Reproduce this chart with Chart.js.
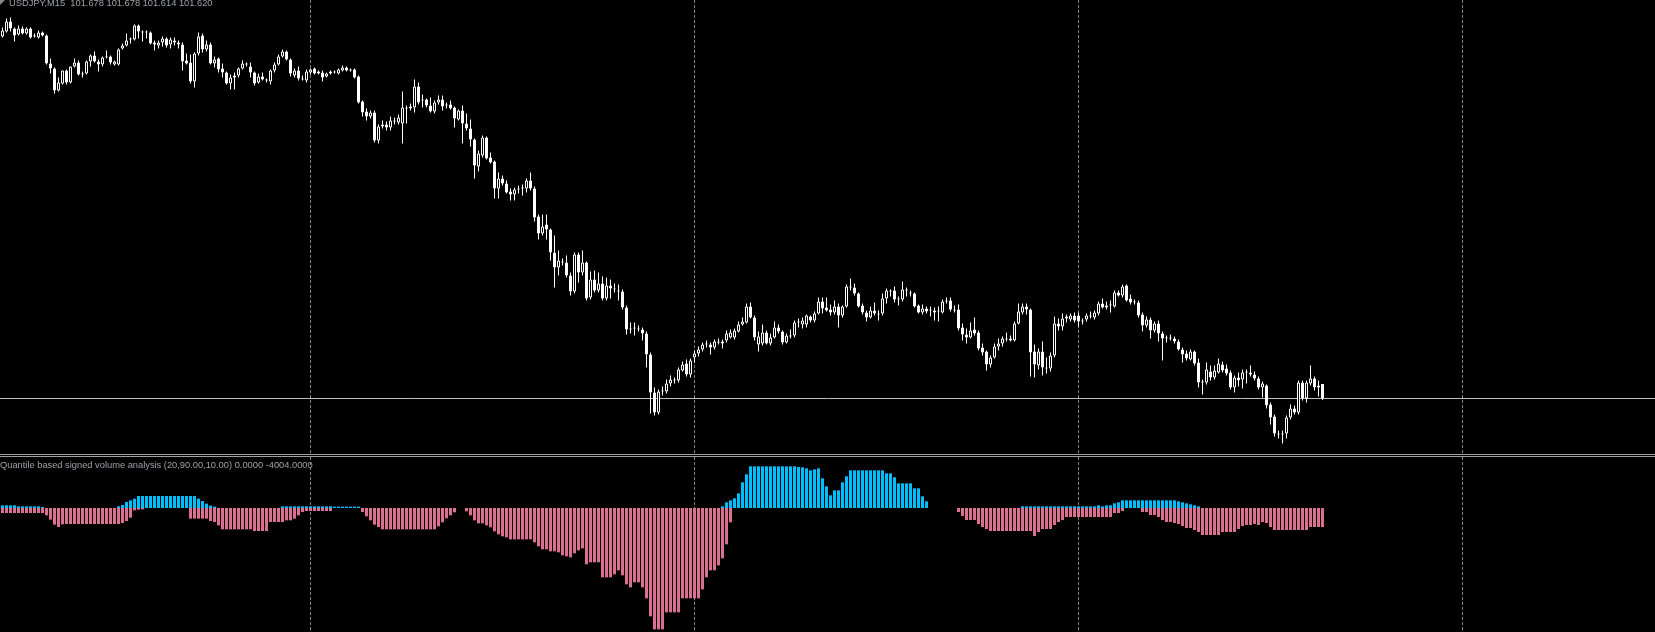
<!DOCTYPE html>
<html>
<head>
<meta charset="utf-8">
<script src="https://cdn.jsdelivr.net/npm/chart.js@4.4.0/dist/chart.umd.min.js"></script>
<style>
  body { margin: 0; background: #000; width: 1655px; height: 632px; overflow: hidden; position: relative;
         font-family: "Liberation Sans", Arial, sans-serif; }
  canvas { position: absolute; left: 0; }
  #price { top: 0; }
  #volume { top: 457px; }
  .sep { position: absolute; left: 0; width: 1655px; height: 1px; background: #a0a0a0; }
  .lbl { position: absolute; color: #9aa2a8; font-size: 9.3px; line-height: 9px; white-space: pre; }
  #tri { position: absolute; left: 0; top: 0; width: 0; height: 0;
         border-top: 5px solid #8a8a8a; border-right: 5px solid transparent; }
</style>
</head>
<body>
<canvas id="price" width="1655" height="454"></canvas>
<div class="sep" style="top:454px"></div>
<div class="sep" style="top:456px"></div>
<canvas id="volume" width="1655" height="175"></canvas>
<div id="tri"></div>
<div class="lbl" id="symLabel" style="left:9px;top:-1px"></div>
<div class="lbl" id="volLabel" style="left:0;top:461px"></div>
<script>
const symbol = 'USDJPY';
const period = 'M15';

// M15 candles, oldest first
const opens = [
  103.068,103.088,103.128,103.100,103.076,103.100,103.080,103.100,103.072,103.064,
  103.084,103.072,102.960,102.940,102.852,102.880,102.932,102.884,102.948,102.964,
  102.920,102.920,102.968,102.992,102.968,102.956,102.988,102.988,102.956,102.956,
  103.020,103.032,103.056,103.056,103.112,103.088,103.088,103.084,103.044,103.032,
  103.044,103.060,103.036,103.052,103.044,103.036,102.972,102.964,102.888,103.000,
  103.072,103.016,103.036,102.960,102.980,102.940,102.924,102.880,102.904,102.912,
  102.940,102.956,102.948,102.924,102.884,102.908,102.892,102.888,102.932,102.956,
  102.988,103.008,102.976,102.912,102.932,102.900,102.892,102.924,102.940,102.928,
  102.924,102.908,102.920,102.924,102.920,102.932,102.944,102.936,102.936,102.908,
  102.808,102.768,102.748,102.764,102.652,102.708,102.716,102.704,102.732,102.724,
  102.720,102.780,102.788,102.784,102.868,102.812,102.816,102.792,102.768,102.804,
  102.816,102.792,102.796,102.784,102.736,102.772,102.720,102.700,102.656,102.548,
  102.592,102.664,102.584,102.568,102.460,102.500,102.480,102.448,102.436,102.456,
  102.460,102.460,102.492,102.460,102.348,102.280,102.316,102.296,102.204,102.144,
  102.168,102.164,102.112,102.048,102.196,102.124,102.164,102.024,102.096,102.052,
  102.080,102.020,102.072,102.060,102.052,102.048,101.984,101.900,101.904,101.900,
  101.896,101.880,101.796,101.644,101.564,101.648,101.648,101.680,101.692,101.692,
  101.732,101.760,101.716,101.784,101.800,101.816,101.840,101.836,101.824,101.848,
  101.848,101.852,101.864,101.864,101.888,101.916,101.924,101.988,101.944,101.836,
  101.840,101.884,101.840,101.864,101.904,101.888,101.844,101.872,101.872,101.928,
  101.916,101.916,101.948,101.932,101.960,102.008,101.984,101.976,101.964,101.988,
  101.952,101.988,102.068,102.064,102.040,101.992,101.964,101.944,101.972,101.960,
  101.960,102.020,102.052,102.052,102.016,102.016,102.056,102.044,102.040,101.992,
  101.964,101.980,101.972,101.972,101.968,101.964,102.008,102.012,101.976,101.976,
  101.904,101.876,101.864,101.896,101.884,101.824,101.808,101.756,101.784,101.828,
  101.840,101.860,101.860,101.852,101.920,101.964,101.988,101.976,101.808,101.752,
  101.808,101.744,101.740,101.792,101.920,101.908,101.940,101.936,101.952,101.952,
  101.932,101.936,101.952,101.944,101.960,102.000,101.992,101.992,101.988,102.044,
  102.032,102.072,102.020,102.004,102.004,101.956,101.912,101.936,101.892,101.920,
  101.880,101.860,101.864,101.860,101.848,101.816,101.800,101.776,101.808,101.764,
  101.684,101.684,101.728,101.704,101.724,101.756,101.740,101.724,101.664,101.704,
  101.696,101.724,101.724,101.716,101.700,101.664,101.672,101.596,101.548,101.480,
  101.476,101.480,101.544,101.580,101.564,101.684,101.620,101.680,101.700,101.672,
  101.678
];
const highs = [
  103.104,103.140,103.144,103.104,103.112,103.108,103.104,103.104,103.080,103.092,
  103.088,103.076,102.980,102.944,102.904,102.932,102.936,102.948,102.980,102.972,
  102.928,102.972,102.996,103.008,102.976,102.988,103.012,102.992,102.972,103.020,
  103.040,103.080,103.064,103.116,103.116,103.092,103.092,103.088,103.052,103.052,
  103.068,103.064,103.064,103.064,103.052,103.044,103.000,102.996,103.004,103.084,
  103.080,103.052,103.044,102.988,102.984,102.960,102.928,102.916,102.924,102.944,
  102.972,102.964,102.964,102.928,102.920,102.924,102.900,102.936,102.964,102.996,
  103.016,103.012,102.980,102.940,102.948,102.912,102.936,102.940,102.944,102.932,
  102.932,102.924,102.932,102.932,102.940,102.952,102.948,102.940,102.940,102.912,
  102.812,102.780,102.772,102.772,102.716,102.732,102.728,102.748,102.744,102.756,
  102.848,102.792,102.800,102.896,102.884,102.836,102.820,102.824,102.812,102.832,
  102.832,102.804,102.812,102.788,102.776,102.792,102.760,102.736,102.660,102.612,
  102.672,102.668,102.604,102.572,102.524,102.512,102.492,102.460,102.464,102.472,
  102.476,102.500,102.524,102.468,102.356,102.356,102.356,102.300,102.272,102.212,
  102.180,102.192,102.124,102.204,102.204,102.212,102.168,102.128,102.132,102.124,
  102.108,102.104,102.096,102.080,102.076,102.056,101.992,101.924,101.924,101.912,
  101.904,101.888,101.804,101.664,101.656,101.668,101.696,101.712,101.704,101.744,
  101.768,101.776,101.780,101.812,101.828,101.844,101.852,101.844,101.856,101.860,
  101.856,101.892,101.896,101.900,101.928,101.944,102.000,102.004,101.952,101.888,
  101.916,101.892,101.880,101.928,101.916,101.892,101.880,101.896,101.932,101.940,
  101.944,101.956,101.952,101.968,102.024,102.024,102.024,101.996,102.012,102.000,
  101.992,102.076,102.100,102.080,102.044,102.000,101.972,101.988,102.004,101.972,
  102.040,102.060,102.056,102.068,102.028,102.088,102.064,102.052,102.044,101.996,
  101.996,101.988,101.988,101.984,101.988,102.016,102.024,102.024,101.992,101.996,
  101.920,101.900,101.924,101.944,101.892,101.840,101.812,101.792,101.840,101.860,
  101.868,101.884,101.872,101.928,102.000,102.000,102.000,101.980,101.836,101.820,
  101.848,101.784,101.804,101.948,101.940,101.960,101.956,101.960,101.964,101.964,
  101.940,101.960,101.968,101.972,102.008,102.020,102.008,102.012,102.052,102.052,
  102.076,102.076,102.036,102.016,102.012,101.964,101.948,101.944,101.928,101.932,
  101.888,101.872,101.876,101.868,101.856,101.824,101.812,101.816,101.812,101.780,
  101.696,101.764,101.752,101.752,101.780,101.768,101.756,101.732,101.712,101.724,
  101.736,101.736,101.752,101.728,101.708,101.688,101.676,101.604,101.556,101.492,
  101.492,101.552,101.596,101.592,101.692,101.692,101.692,101.752,101.708,101.692,
  101.678
];
const lows = [
  103.064,103.084,103.088,103.048,103.072,103.076,103.076,103.060,103.064,103.060,
  103.068,102.956,102.920,102.840,102.848,102.876,102.876,102.880,102.944,102.912,
  102.904,102.916,102.948,102.964,102.928,102.948,102.980,102.956,102.952,102.952,
  103.016,103.028,103.040,103.052,103.060,103.048,103.060,103.036,103.012,103.020,
  103.028,103.024,103.020,103.032,103.020,102.932,102.956,102.880,102.864,102.992,
  103.004,103.008,102.956,102.944,102.924,102.904,102.876,102.856,102.856,102.904,
  102.936,102.948,102.904,102.872,102.880,102.892,102.884,102.876,102.924,102.952,
  102.984,102.972,102.908,102.904,102.892,102.892,102.884,102.916,102.916,102.916,
  102.888,102.904,102.916,102.920,102.916,102.928,102.928,102.928,102.900,102.800,
  102.748,102.732,102.740,102.644,102.640,102.700,102.692,102.692,102.716,102.716,
  102.640,102.720,102.772,102.764,102.796,102.784,102.784,102.764,102.760,102.796,
  102.772,102.780,102.776,102.704,102.732,102.640,102.692,102.628,102.500,102.528,
  102.584,102.576,102.560,102.420,102.420,102.472,102.440,102.412,102.412,102.440,
  102.432,102.444,102.452,102.328,102.256,102.272,102.256,102.172,102.064,102.112,
  102.152,102.104,102.032,102.040,102.084,102.112,102.012,102.016,102.044,102.044,
  102.012,102.012,102.020,102.044,102.012,101.976,101.876,101.880,101.872,101.888,
  101.852,101.744,101.560,101.552,101.556,101.632,101.640,101.668,101.680,101.684,
  101.728,101.708,101.704,101.764,101.788,101.808,101.824,101.796,101.816,101.836,
  101.820,101.844,101.860,101.856,101.884,101.912,101.920,101.940,101.852,101.808,
  101.832,101.836,101.832,101.860,101.880,101.836,101.840,101.860,101.864,101.904,
  101.900,101.904,101.924,101.924,101.956,101.960,101.968,101.952,101.956,101.904,
  101.944,101.984,102.052,102.032,101.984,101.956,101.928,101.940,101.952,101.932,
  101.952,102.000,102.028,102.004,101.992,102.008,102.028,102.028,101.984,101.960,
  101.956,101.960,101.948,101.932,101.928,101.960,102.000,101.968,101.964,101.892,
  101.852,101.840,101.860,101.872,101.812,101.792,101.732,101.744,101.780,101.812,
  101.828,101.848,101.848,101.848,101.916,101.956,101.956,101.708,101.704,101.736,
  101.712,101.720,101.728,101.784,101.892,101.892,101.924,101.928,101.924,101.908,
  101.916,101.928,101.940,101.936,101.952,101.980,101.976,101.964,101.984,102.028,
  102.024,102.008,101.996,101.996,101.944,101.888,101.904,101.860,101.884,101.848,
  101.772,101.844,101.852,101.840,101.812,101.764,101.772,101.772,101.752,101.664,
  101.636,101.676,101.692,101.696,101.720,101.724,101.712,101.656,101.644,101.668,
  101.660,101.680,101.708,101.692,101.656,101.624,101.580,101.516,101.468,101.460,
  101.440,101.460,101.536,101.556,101.556,101.612,101.604,101.672,101.652,101.628,
  101.614
];
const closes = [
  103.092,103.128,103.100,103.072,103.100,103.080,103.100,103.064,103.068,103.084,
  103.072,102.960,102.940,102.852,102.884,102.932,102.884,102.948,102.964,102.916,
  102.916,102.968,102.992,102.968,102.956,102.984,102.984,102.964,102.968,103.016,
  103.032,103.052,103.060,103.112,103.088,103.084,103.084,103.040,103.036,103.044,
  103.060,103.032,103.056,103.044,103.036,102.968,102.960,102.888,103.000,103.068,
  103.016,103.036,102.960,102.976,102.936,102.924,102.880,102.904,102.912,102.940,
  102.960,102.956,102.924,102.880,102.908,102.896,102.892,102.932,102.956,102.988,
  103.008,102.976,102.920,102.932,102.900,102.896,102.928,102.936,102.920,102.920,
  102.904,102.920,102.928,102.924,102.936,102.944,102.932,102.932,102.904,102.804,
  102.764,102.748,102.764,102.652,102.708,102.716,102.704,102.732,102.728,102.744,
  102.784,102.780,102.780,102.868,102.804,102.812,102.792,102.768,102.804,102.816,
  102.788,102.792,102.780,102.740,102.772,102.720,102.700,102.656,102.552,102.600,
  102.664,102.580,102.564,102.460,102.500,102.480,102.444,102.436,102.456,102.456,
  102.460,102.492,102.460,102.344,102.280,102.308,102.296,102.204,102.144,102.172,
  102.164,102.112,102.048,102.196,102.124,102.164,102.020,102.096,102.052,102.080,
  102.020,102.072,102.060,102.056,102.048,101.984,101.896,101.896,101.900,101.896,
  101.880,101.796,101.644,101.564,101.648,101.648,101.680,101.696,101.692,101.736,
  101.756,101.716,101.772,101.800,101.816,101.836,101.836,101.824,101.848,101.844,
  101.840,101.880,101.884,101.892,101.916,101.928,101.988,101.944,101.864,101.868,
  101.884,101.840,101.864,101.904,101.888,101.844,101.872,101.868,101.924,101.924,
  101.932,101.952,101.932,101.960,102.008,101.980,101.972,101.964,101.988,101.952,
  101.988,102.068,102.064,102.040,101.988,101.964,101.944,101.972,101.960,101.956,
  102.020,102.052,102.048,102.016,102.016,102.056,102.052,102.040,101.988,101.964,
  101.980,101.968,101.972,101.964,101.968,102.008,102.012,101.976,101.972,101.900,
  101.876,101.864,101.892,101.880,101.820,101.804,101.756,101.784,101.828,101.840,
  101.860,101.856,101.852,101.920,101.968,101.988,101.976,101.804,101.756,101.808,
  101.744,101.740,101.792,101.920,101.908,101.940,101.948,101.952,101.932,101.928,
  101.928,101.952,101.948,101.964,102.000,101.984,101.984,101.992,102.044,102.032,
  102.068,102.012,102.004,102.004,101.952,101.912,101.936,101.892,101.920,101.880,
  101.860,101.860,101.860,101.848,101.816,101.796,101.780,101.808,101.760,101.684,
  101.684,101.736,101.704,101.732,101.760,101.732,101.720,101.664,101.704,101.692,
  101.724,101.724,101.716,101.700,101.664,101.680,101.592,101.544,101.480,101.476,
  101.476,101.544,101.580,101.564,101.684,101.620,101.684,101.700,101.664,101.664,
  101.620
];
const bidPrice = 101.620;

// bars where the time grid lines fall
const gridBars = [77, 173, 269, 365];

const indName = 'Quantile based signed volume analysis';
const indParams = ['20', '90.00', '10.00'];

// indicator buffers: buy side (positive) and sell side (negative)
const buyVol = [
  562,562,562,562,351,351,351,351,351,351,
  211,0,0,0,0,0,0,0,0,0,
  0,0,0,0,0,0,0,0,0,351,
  632,1265,1616,1967,2529,2529,2529,2529,2529,2529,
  2529,2529,2529,2529,2529,2529,2529,2529,2529,1967,
  1475,913,492,281,0,0,0,0,0,0,
  0,0,0,0,0,0,0,0,0,0,
  351,351,351,351,351,351,351,351,351,351,
  351,351,351,281,281,281,281,281,281,281,
  0,0,0,0,0,0,0,0,0,0,
  0,0,0,0,0,0,0,0,0,0,
  0,0,0,0,0,0,0,0,0,0,
  0,0,0,0,0,0,0,0,0,0,
  0,0,0,0,0,0,0,0,0,0,
  0,0,0,0,0,0,0,0,0,0,
  0,0,0,0,0,0,0,0,0,0,
  0,0,0,0,0,0,0,0,0,0,
  0,0,0,0,0,0,0,0,0,0,
  351,1194,1616,2037,3091,5409,7095,8781,8781,8781,
  8781,8781,8781,8781,8781,8781,8781,8781,8781,8641,
  8571,8360,7938,8149,8360,6252,4566,2670,3723,3723,
  5409,6674,7938,7938,7938,7938,7938,7938,7938,7938,
  7938,7306,7306,6463,5199,5199,5199,5199,4145,4145,
  2459,1405,0,0,0,0,0,0,0,0,
  0,0,0,0,0,0,0,0,0,0,
  0,0,0,0,0,351,351,351,351,351,
  351,351,351,351,351,351,351,351,351,351,
  351,351,351,351,562,351,562,562,984,1194,
  1616,1616,1616,1616,1616,1616,1616,1616,1616,1616,
  1616,1616,1616,1616,1405,1194,984,773,562,351,
  0,0,0,0,0,0,0,0,0,0,
  0,0,0,0,0,0,0,0,0,0,
  0,0,0,0,0,0,0,0,0,0,
  0
];
const sellVol = [
  -1054,-1054,-1054,-1054,-1054,-1054,-1054,-1054,-1054,-1054,
  -1054,-1546,-2459,-3513,-4004,-3442,-3372,-3372,-3372,-3372,
  -3372,-3372,-3372,-3372,-3372,-3372,-3372,-3372,-3372,-3372,
  -3161,-2740,-2037,-492,-351,-281,0,0,0,0,
  0,0,0,0,0,0,0,-2248,-2248,-2248,
  -2248,-2248,-2740,-2951,-3653,-4496,-4496,-4496,-4496,-4496,
  -4496,-4496,-4496,-4847,-4847,-4847,-4847,-2951,-2951,-2951,
  -2951,-2599,-2599,-2248,-1546,-843,-632,-632,-632,-632,
  -632,-632,-632,0,0,0,0,0,0,0,
  -843,-1756,-2599,-3513,-4004,-4496,-4496,-4496,-4496,-4496,
  -4496,-4496,-4496,-4496,-4496,-4496,-4496,-4496,-4496,-3864,
  -3021,-2178,-1546,-913,0,0,-703,-1546,-2599,-3232,
  -3232,-3653,-4075,-4918,-5550,-5971,-6182,-6604,-6604,-6604,
  -6604,-6604,-6604,-7236,-8079,-8711,-8711,-9133,-9133,-9343,
  -9976,-10186,-10397,-9554,-8922,-8500,-11872,-11451,-11451,-11451,
  -14612,-14612,-14612,-13980,-13137,-14191,-16087,-16720,-15666,-15666,
  -16720,-19038,-22831,-25571,-25571,-25571,-21988,-21988,-21988,-21988,
  -19038,-19038,-19038,-19038,-19038,-17141,-14612,-13137,-13137,-12083,
  -10608,-7657,-3021,0,0,0,0,0,0,0,
  0,0,0,0,0,0,0,0,0,0,
  0,0,0,0,0,0,0,0,0,0,
  0,0,0,0,0,0,0,0,0,0,
  0,0,0,0,0,0,0,0,0,0,
  0,0,0,0,0,0,0,0,0,-843,
  -1686,-2529,-2529,-2529,-3372,-4004,-4426,-4847,-4847,-4847,
  -4847,-4847,-4847,-4847,-4847,-4847,-4847,-4847,-5901,-5058,
  -4426,-4426,-4426,-3583,-2951,-2529,-1897,-1897,-1897,-1897,
  -1897,-1897,-1897,-1897,-1897,-1897,-1897,-1897,-1054,-1054,
  -632,0,0,0,0,-843,-843,-1475,-1475,-1897,
  -2529,-2951,-2951,-3161,-3372,-3794,-4215,-4215,-4637,-5058,
  -5690,-5690,-5690,-5690,-5690,-5058,-5058,-5058,-5058,-4426,
  -3794,-3583,-3583,-3372,-3583,-2951,-3161,-4004,-4637,-4637,
  -4637,-4637,-4637,-4637,-4637,-4637,-4637,-4004,-4004,-4004,
  -4004
];

const last = closes.length - 1;
document.getElementById('symLabel').textContent =
  `${symbol},${period}  ${opens[last].toFixed(3)} ${highs[last].toFixed(3)} ${lows[last].toFixed(3)} ${closes[last].toFixed(3)}`;
document.getElementById('volLabel').textContent =
  `${indName} (${indParams.join(',')}) ${buyVol[last].toFixed(4)} ${sellVol[last].toFixed(4)}`;

const X_MIN = -0.625, X_MAX = 413.125;

function timeAxis() {
  return {
    type: 'linear', min: X_MIN, max: X_MAX, offset: false,
    afterBuildTicks: axis => { axis.ticks = gridBars.map(v => ({ value: v })); },
    ticks: { display: false },
    grid: { color: '#808080', lineWidth: 1, drawTicks: false, offset: false },
    border: { display: false, dash: [3, 2] }
  };
}

const baseOptions = {
  responsive: false,
  animation: false,
  devicePixelRatio: 1,
  layout: { padding: 0 },
  plugins: { legend: { display: false }, tooltip: { enabled: false } }
};

const isBull = i => closes[i] > opens[i];

new Chart(document.getElementById('price'), {
  type: 'bar',
  data: {
    datasets: [
      {
        data: closes.map((c, i) => ({ x: i, y: [opens[i], c] })),
        backgroundColor: ctx => isBull(ctx.dataIndex) ? '#000000' : '#ffffff',
        borderColor: '#ffffff',
        borderWidth: 1,
        borderSkipped: false,
        barThickness: 3,
        maxBarThickness: 3,
        minBarLength: 1,
        inflateAmount: 0,
        grouped: false,
        order: 0
      },
      {
        data: closes.map((c, i) => ({ x: i, y: [lows[i], highs[i]] })),
        backgroundColor: '#ffffff',
        borderWidth: 0,
        barThickness: 1,
        maxBarThickness: 1,
        inflateAmount: 0,
        grouped: false,
        order: 1
      },
      {
        type: 'line',
        data: [{ x: X_MIN, y: bidPrice }, { x: X_MAX, y: bidPrice }],
        borderColor: '#c0c0c0',
        borderWidth: 1,
        pointRadius: 0,
        order: 2
      }
    ]
  },
  options: Object.assign({}, baseOptions, {
    scales: {
      x: timeAxis(),
      y: { display: false, min: 101.398, max: 103.214 }
    }
  })
});

new Chart(document.getElementById('volume'), {
  type: 'bar',
  data: {
    datasets: [
      {
        data: buyVol.map((v, i) => ({ x: i, y: v })),
        backgroundColor: '#00bfff',
        barThickness: 3,
        maxBarThickness: 3,
        inflateAmount: 0,
        grouped: false
      },
      {
        data: sellVol.map((v, i) => ({ x: i, y: v })),
        backgroundColor: '#db7093',
        barThickness: 3,
        maxBarThickness: 3,
        inflateAmount: 0,
        grouped: false
      }
    ]
  },
  options: Object.assign({}, baseOptions, {
    scales: {
      x: timeAxis(),
      y: { display: false, min: -26133, max: 10748 }
    }
  })
});
</script>
</body>
</html>
